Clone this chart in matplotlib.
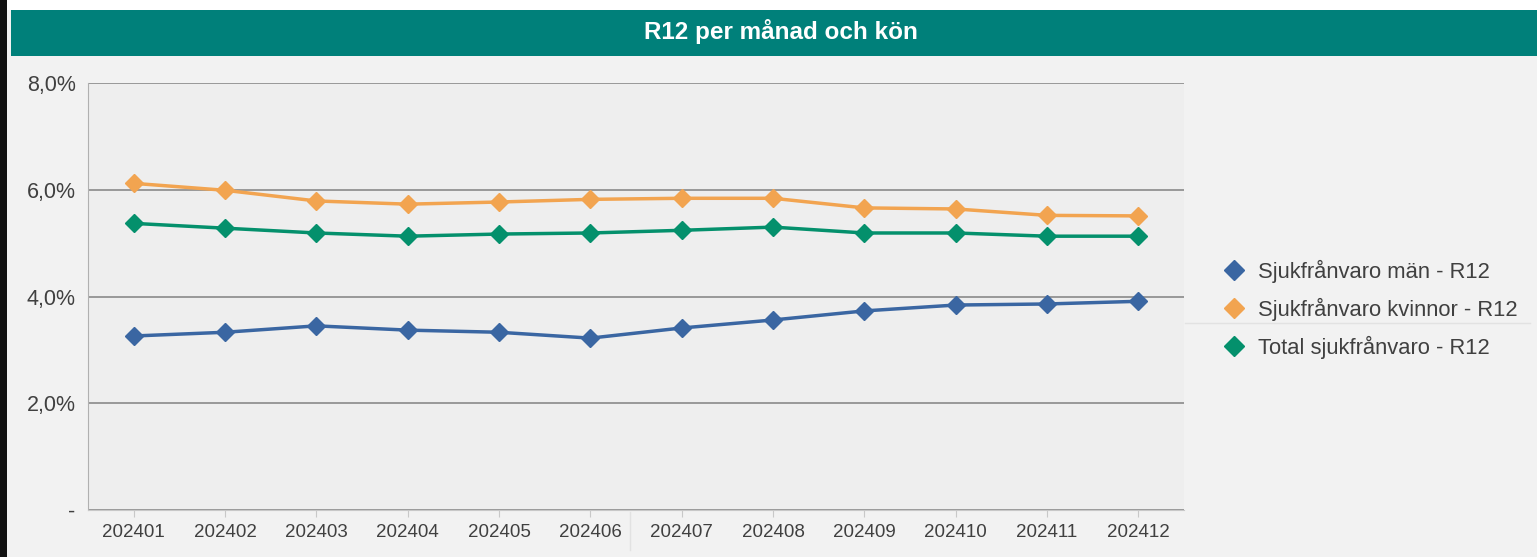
import matplotlib
matplotlib.use("Agg")
import matplotlib.pyplot as plt
from matplotlib.lines import Line2D
from matplotlib.patches import Rectangle

plt.rcParams['font.family'] = ['Liberation Sans', 'DejaVu Sans']

# ---------------- Data ----------------
months = ["202401", "202402", "202403", "202404", "202405", "202406",
          "202407", "202408", "202409", "202410", "202411", "202412"]
man = [3.26, 3.33, 3.45, 3.37, 3.33, 3.22, 3.41, 3.56, 3.73, 3.84, 3.86, 3.91]
kvinnor = [6.12, 5.99, 5.79, 5.73, 5.77, 5.82, 5.84, 5.84, 5.66, 5.64, 5.52, 5.51]
total = [5.37, 5.28, 5.19, 5.13, 5.17, 5.19, 5.24, 5.30, 5.19, 5.19, 5.13, 5.13]

series_names = ["Sjukfrånvaro män - R12", "Sjukfrånvaro kvinnor - R12",
                "Total sjukfrånvaro - R12"]
colors = ["#3a66a2", "#f2a450", "#04906c"]
y_ticks = [0, 2, 4, 6, 8]
y_labels = ["-", "2,0%", "4,0%", "6,0%", "8,0%"]
title = "R12 per månad och kön"

# ---------------- Figure ----------------
W, H = 1537, 557
fig = plt.figure(figsize=(W / 100, H / 100), dpi=100)
fig.patch.set_facecolor("#f2f2f2")

# white top strip, dark left edge, teal banner
fig.patches.append(Rectangle((0, 1 - 10 / H), 1, 10 / H, transform=fig.transFigure,
                             facecolor="white", edgecolor="none", zorder=0))
fig.patches.append(Rectangle((0, 0), 7 / W, 1, transform=fig.transFigure,
                             facecolor="#111111", edgecolor="none", zorder=1))
fig.patches.append(Rectangle((11 / W, 1 - 56 / H), 1 - 11 / W, 46 / H,
                             transform=fig.transFigure, facecolor="#00807a",
                             edgecolor="none", zorder=1))
fig.text(781 / W, 1 - 32 / H, title, color="white", fontsize=17.5, fontweight="bold",
         ha="center", va="center")

# faint separator lines seen in the screenshot
fig.add_artist(Line2D([1185 / W, 1530 / W], [1 - 323 / H, 1 - 323 / H],
                      color="#e2e2e2", lw=1))
fig.add_artist(Line2D([630 / W, 630 / W], [1 - 512 / H, 1 - 550 / H],
                      color="#e2e2e2", lw=1))

# plot area: x 88..1184, y 83..510 px
ax = fig.add_axes([88 / W, 1 - 510 / H, (1184 - 88) / W, (510 - 83) / H])
ax.set_facecolor("#eeeeee")

x = list(range(len(months)))
for vals, name, c in zip([man, kvinnor, total], series_names, colors):
    ax.plot(x, vals, color=c, lw=2.5, marker="D", ms=9, mec=c, mfc=c,
            label=name, zorder=3)

ax.set_xlim(-0.5, len(months) - 0.5)
ax.set_ylim(0, 8)
ax.set_yticks(y_ticks)
ax.set_yticklabels(y_labels)
ax.set_xticks(x)
ax.set_xticklabels(months)
ax.yaxis.grid(True, color="#8a8a8a", lw=1.2)
ax.set_axisbelow(True)

for side in ["top", "right"]:
    ax.spines[side].set_visible(False)
ax.spines["left"].set_color("#b0b0b0")
ax.spines["bottom"].set_color("#c8c8c8")
ax.tick_params(axis="y", length=0, pad=9, labelsize=15.5, labelcolor="#404040")
ax.tick_params(axis="x", length=5, color="#c8c8c8", pad=5, labelsize=13.5,
               labelcolor="#404040")

handles = [Line2D([], [], ls="none", marker="D", ms=10, color=c) for c in colors]
fig.legend(handles, series_names, loc="center left",
           bbox_to_anchor=(1202 / W, 1 - 309 / H), frameon=False, fontsize=15.8,
           labelcolor="#404040", handletextpad=0.55, labelspacing=0.68,
           handlelength=1.1)

fig.savefig("out.png", dpi=100, facecolor=fig.get_facecolor())
